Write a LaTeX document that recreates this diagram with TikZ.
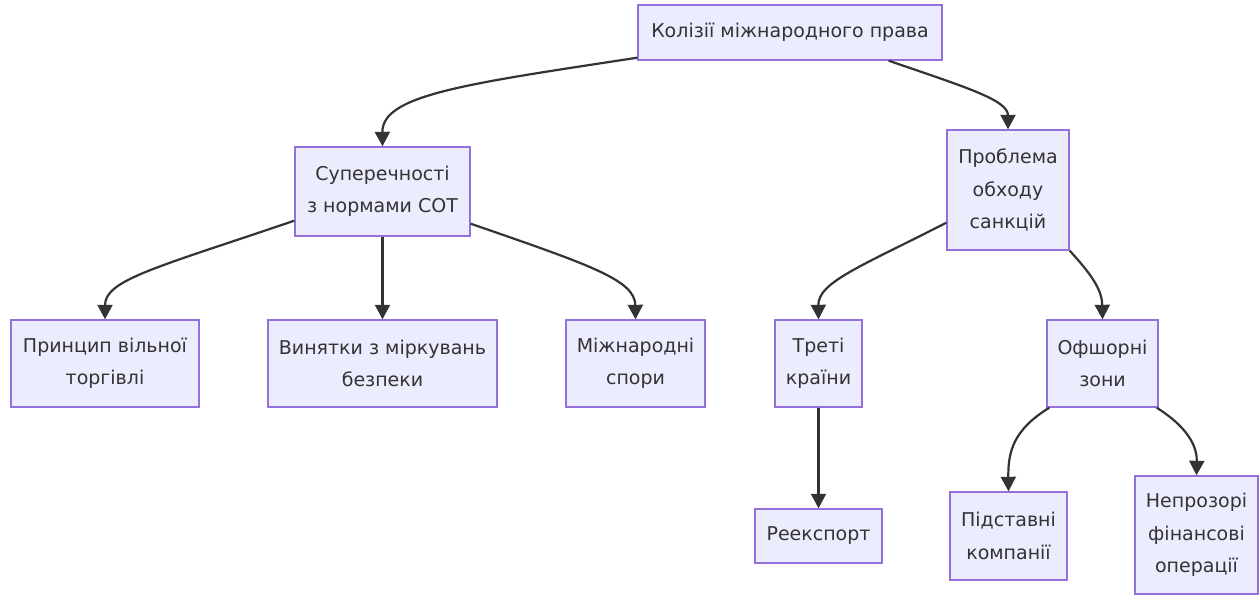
\documentclass[tikz,border=0pt]{standalone}
\usepackage{fontspec}
\setmainfont{DejaVu Sans}
\usetikzlibrary{arrows.meta}
\definecolor{boxfill}{HTML}{ECECFF}
\definecolor{boxline}{HTML}{9370DB}
\definecolor{ink}{HTML}{333333}
\begin{document}
\begin{tikzpicture}[x=1pt,y=-1pt,
  box/.style={draw=boxline, fill=boxfill, line width=1.4pt, align=center,
    text=ink, font=\fontsize{19}{32.5}\selectfont, inner sep=0pt},
  link/.style={draw=ink, line width=2.2pt, -{Triangle[length=14.5pt,width=15pt]}}]
\useasboundingbox (0,0) rectangle (1260,594);

% level 0
\node[box, minimum width=304pt, minimum height=55pt] (root) at (790,32.5) {Колізії міжнародного права};
% level 1
\node[box, minimum width=175pt, minimum height=89pt] (sup) at (382.5,191.5) {Суперечності\\з нормами СОТ};
\node[box, minimum width=122pt, minimum height=120pt] (prob) at (1008,190) {Проблема\\обходу\\санкцій};
% level 2
\node[box, minimum width=188pt, minimum height=87pt] (free) at (105,363.5) {Принцип вільної\\торгівлі};
\node[box, minimum width=229pt, minimum height=87pt] (exc) at (382.5,363.5) {Винятки з міркувань\\безпеки};
\node[box, minimum width=139pt, minimum height=87pt] (disp) at (635.5,363.5) {Міжнародні\\спори};
\node[box, minimum width=87pt, minimum height=87pt] (third) at (818.5,363.5) {Треті\\країни};
\node[box, minimum width=111pt, minimum height=87pt] (off) at (1102.5,363.5) {Офшорні\\зони};
% level 3
\node[box, minimum width=127pt, minimum height=54pt] (reex) at (818.5,536) {Реекспорт};
\node[box, minimum width=117pt, minimum height=88pt] (shell) at (1008.5,536) {Підставні\\компанії};
\node[box, minimum width=123pt, minimum height=118pt] (opaque) at (1196.5,535) {Непрозорі\\фінансові\\операції};

% connectors
\draw[link] ([yshift=3pt]root.south west) .. controls (465,84) and (382,95) .. (sup.north);
\draw[link] ([xshift=-54pt]root.south east) .. controls (965,87) and (1008,100) .. (prob.north);
\draw[link] ([yshift=16pt]sup.south west) .. controls (155,268) and (105,280) .. (free.north);
\draw[link] (sup.south) -- (exc.north);
\draw[link] ([yshift=13pt]sup.south east) .. controls (590,265) and (635,280) .. (disp.north);
\draw[link] ([yshift=28pt]prob.south west) .. controls (862,266) and (818,282) .. (third.north);
\draw[link] (prob.south east) .. controls (1092,275) and (1102,290) .. (off.north);
\draw[link] (third.south) -- (reex.north);
\draw[link] ([xshift=3pt]off.south west) .. controls (1013,430) and (1008,452) .. (shell.north);
\draw[link] ([xshift=-2pt]off.south east) .. controls (1192,430) and (1197,450) .. (opaque.north);
\end{tikzpicture}
\end{document}
